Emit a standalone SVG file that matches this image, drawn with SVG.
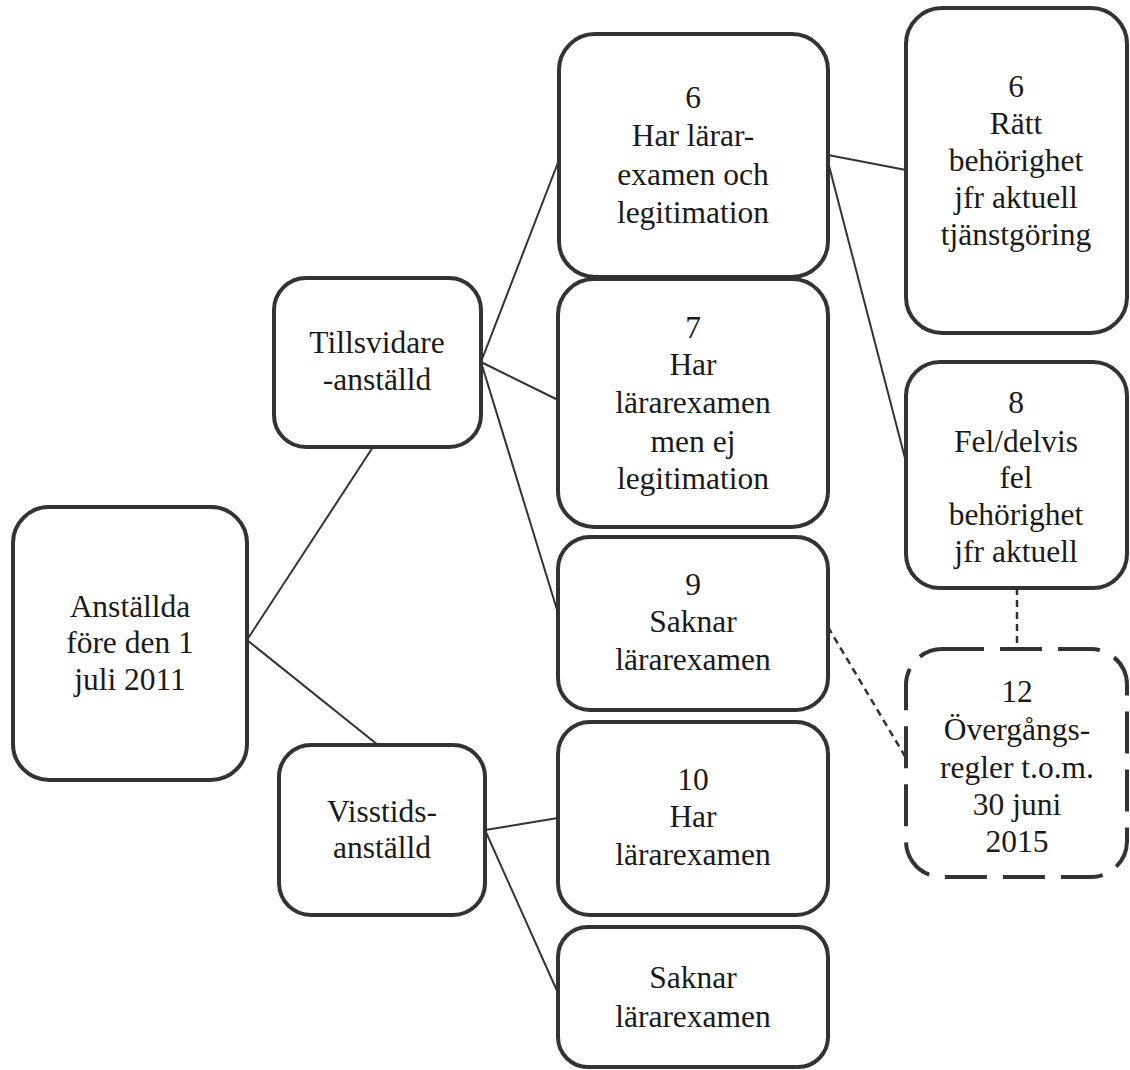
<svg xmlns="http://www.w3.org/2000/svg" width="1130" height="1070" viewBox="0 0 1130 1070">
<style>
.box{fill:#fff;stroke:#333;stroke-width:4}
.dbox{fill:#fff;stroke:#333;stroke-width:4;stroke-dasharray:42 16}
.t{font-family:"Liberation Serif","Times New Roman",serif;font-size:31.5px;fill:#1a1a1a;text-anchor:middle}
.c{stroke:#333;stroke-width:2;fill:none}
.cd{stroke:#333;stroke-width:2.5;fill:none;stroke-dasharray:7 5}
</style>
<rect width="1130" height="1070" fill="#fff"/>
<g id="connectors">
<line class="c" x1="247" y1="640" x2="373" y2="447"/>
<line class="c" x1="247" y1="640" x2="378" y2="745"/>
<line class="c" x1="481" y1="362" x2="559" y2="160"/>
<line class="c" x1="481" y1="362" x2="558" y2="400"/>
<line class="c" x1="481" y1="362" x2="558" y2="613"/>
<line class="c" x1="485" y1="830" x2="558" y2="818"/>
<line class="c" x1="485" y1="830" x2="558" y2="993"/>
<line class="c" x1="828" y1="155" x2="906" y2="170"/>
<line class="c" x1="828" y1="162" x2="906" y2="462"/>
<line class="cd" x1="1017" y1="588" x2="1017" y2="649"/>
<line class="cd" x1="828" y1="627" x2="906" y2="758"/>
</g>
<g id="n_anstallda">
<rect class="box" x="13" y="507" width="234" height="273" rx="36"/>
<text class="t"><tspan x="130" y="617">Anställda</tspan><tspan x="130" y="653">före den 1</tspan><tspan x="130" y="690">juli 2011</tspan></text>
</g>
<g id="n_tillsvidare">
<rect class="box" x="274" y="278" width="207" height="169" rx="32"/>
<text class="t"><tspan x="377" y="353">Tillsvidare</tspan><tspan x="377" y="390">-anställd</tspan></text>
</g>
<g id="n_visstids">
<rect class="box" x="279" y="745" width="206" height="170" rx="32"/>
<text class="t"><tspan x="382" y="822">Visstids-</tspan><tspan x="382" y="858">anställd</tspan></text>
</g>
<g id="n6">
<rect class="box" x="559" y="34" width="269" height="243" rx="36"/>
<text class="t"><tspan x="693" y="108">6</tspan><tspan x="693" y="146">Har lärar-</tspan><tspan x="693" y="185">examen och</tspan><tspan x="693" y="223">legitimation</tspan></text>
</g>
<g id="n7">
<rect class="box" x="558" y="279" width="270" height="248" rx="36"/>
<text class="t"><tspan x="693" y="338">7</tspan><tspan x="693" y="375">Har</tspan><tspan x="693" y="413">lärarexamen</tspan><tspan x="693" y="452">men ej</tspan><tspan x="693" y="489">legitimation</tspan></text>
</g>
<g id="n9">
<rect class="box" x="558" y="537" width="270" height="173" rx="32"/>
<text class="t"><tspan x="693" y="595">9</tspan><tspan x="693" y="632">Saknar</tspan><tspan x="693" y="670">lärarexamen</tspan></text>
</g>
<g id="n10">
<rect class="box" x="558" y="722" width="270" height="193" rx="32"/>
<text class="t"><tspan x="693" y="790">10</tspan><tspan x="693" y="827">Har</tspan><tspan x="693" y="865">lärarexamen</tspan></text>
</g>
<g id="n_saknar">
<rect class="box" x="558" y="927" width="270" height="140" rx="30"/>
<text class="t"><tspan x="693" y="988">Saknar</tspan><tspan x="693" y="1027">lärarexamen</tspan></text>
</g>
<g id="n6_ratt">
<rect class="box" x="906" y="8" width="221" height="325" rx="36"/>
<text class="t"><tspan x="1016" y="97">6</tspan><tspan x="1016" y="134">Rätt</tspan><tspan x="1016" y="171">behörighet</tspan><tspan x="1016" y="208">jfr aktuell</tspan><tspan x="1016" y="245">tjänstgöring</tspan></text>
</g>
<g id="n8">
<rect class="box" x="906" y="362" width="221" height="226" rx="34"/>
<text class="t"><tspan x="1016" y="413">8</tspan><tspan x="1016" y="452">Fel/delvis</tspan><tspan x="1016" y="488">fel</tspan><tspan x="1016" y="525">behörighet</tspan><tspan x="1016" y="562">jfr aktuell</tspan></text>
</g>
<g id="n12">
<rect class="dbox" x="906" y="649" width="221" height="228" rx="36"/>
<text class="t"><tspan x="1017" y="702">12</tspan><tspan x="1017" y="740">Övergångs-</tspan><tspan x="1017" y="778">regler t.o.m.</tspan><tspan x="1017" y="815">30 juni</tspan><tspan x="1017" y="852">2015</tspan></text>
</g>
</svg>
